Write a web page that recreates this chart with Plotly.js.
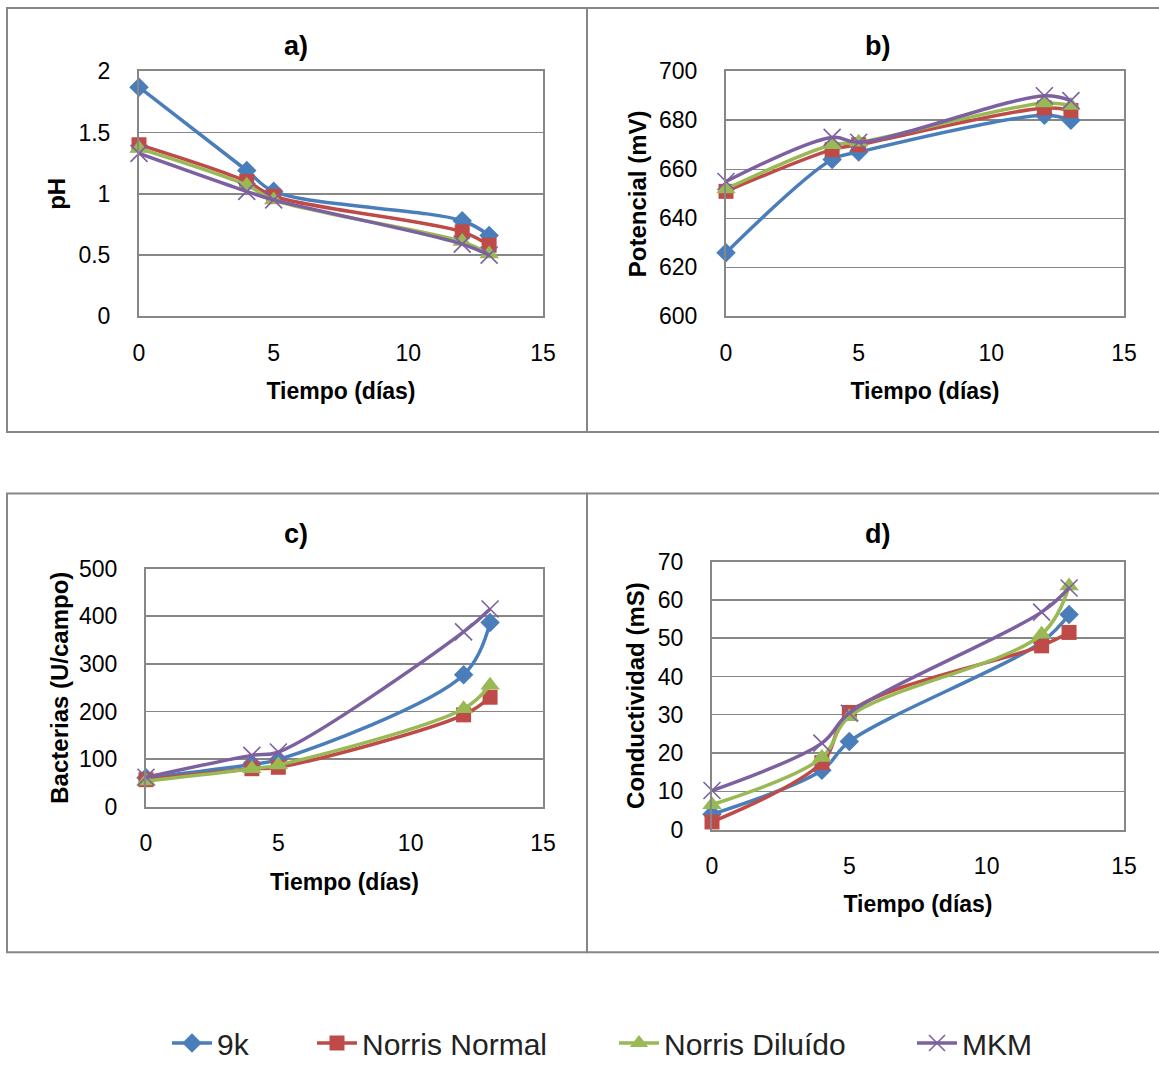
<!DOCTYPE html>
<html>
<head>
<meta charset="utf-8">
<script src="https://cdn.plot.ly/plotly-3.0.1.min.js"></script>
<style>html,body{margin:0;padding:0;background:#fff;overflow:hidden;}#chart{width:1159px;height:1069px;}</style>
</head>
<body>
<div id="chart"></div>
<script>
// ---- data ----
const dias = [0, 4, 5, 12, 13];
const seriesNames = ["9k", "Norris Normal", "Norris Diluído", "MKM"];

const ph_9k  = [1.87, 1.19, 1.02, 0.78, 0.66];
const ph_nn  = [1.40, 1.10, 0.98, 0.69, 0.58];
const ph_nd  = [1.37, 1.07, 0.95, 0.61, 0.51];
const ph_mkm = [1.33, 1.02, 0.95, 0.59, 0.50];

const pot_9k  = [626, 664, 667, 682, 680];
const pot_nn  = [651, 668, 670, 685, 684];
const pot_nd  = [652, 670, 671, 687, 686];
const pot_mkm = [655, 673, 671, 690, 688];

const bac_9k  = [61, 89, 99, 277, 387];
const bac_nn  = [57, 80, 83, 193, 230];
const bac_nd  = [54, 80, 88, 206, 255];
const bac_mkm = [62, 108, 115, 367, 415];

const cond_9k  = [4, 15.5, 23, 49, 56.2];
const cond_nn  = [2, 17.5, 30.6, 48, 51.5];
const cond_nd  = [6.5, 18.8, 29.5, 51, 63.6];
const cond_mkm = [10.2, 22.6, 30.4, 56.8, 63.1];

const panelTitles = ["a)", "b)", "c)", "d)"];
const yTitles = ["pH", "Potencial (mV)", "Bacterias (U/campo)", "Conductividad (mS)"];
const xTitle = "Tiempo (días)";

// ---- styles ----
const W = 1159, H = 1069;
const colors = ["#4A7EBB", "#BE4B48", "#98B954", "#7D60A0"];
const symbols = ["diamond", "square", "triangle-up", "x-thin-open"];
const msizes = [15, 15, 17, 17];
const FONT = "Liberation Sans, Arial, sans-serif";
const GRID = "#878787";
const legendX = [167, 312, 614, 912]; // px, left edge of each legend entry

const panelData = [
  [ph_9k, ph_nn, ph_nd, ph_mkm],
  [pot_9k, pot_nn, pot_nd, pot_mkm],
  [bac_9k, bac_nn, bac_nd, bac_mkm],
  [cond_9k, cond_nn, cond_nd, cond_mkm]
];
const yRanges = [[0, 2], [600, 700], [0, 500], [0, 70]];
const yDticks = [0.5, 20, 100, 10];
// plot areas in pixels [left, right, top, bottom]
const areas = [
  [139, 543, 72, 320],
  [726, 1124, 72, 320],
  [146, 543, 575, 816],
  [712, 1124, 568, 839]
];
const boxes = [
  [7, 587, 8, 437],
  [587, 1161, 8, 437],
  [7, 587, 499, 963],
  [587, 1161, 499, 963]
];
const titlePos = [[296, 47], [877, 47], [296, 540], [877, 540]];
const yStandoff = [6, 6, 4, 6];

const traces = [];
const layout = {
  width: W, height: H, autosize: false,
  margin: {l: 0, r: 0, t: 0, b: 0},
  paper_bgcolor: "#ffffff", plot_bgcolor: "#ffffff",
  font: {family: FONT, size: 23, color: "#000"},
  showlegend: true,
  shapes: [], annotations: []
};
// one legend per series so that each entry sits at its own position
for (let s = 0; s < 4; s++) {
  const key = s === 0 ? "legend" : "legend" + (s + 1);
  layout[key] = {
    orientation: "h", x: legendX[s] / W, xanchor: "left", y: 1 - 1055 / H, yanchor: "middle",
    font: {family: FONT, size: 30, color: "#222"}, itemwidth: 40, bgcolor: "rgba(0,0,0,0)"
  };
}

for (let p = 0; p < 4; p++) {
  const ax = p === 0 ? "" : String(p + 1);
  const [l, r, t, b] = areas[p];
  for (let s = 0; s < 4; s++) {
    const isX = symbols[s] === "x-thin-open";
    traces.push({
      type: "scatter", mode: "lines+markers",
      x: dias, y: panelData[p][s], name: seriesNames[s],
      xaxis: "x" + ax, yaxis: "y" + ax,
      showlegend: p === 0, legend: s === 0 ? "legend" : "legend" + (s + 1),
      cliponaxis: false,
      line: {color: colors[s], width: 3.5, shape: "spline", smoothing: 1},
      marker: {symbol: symbols[s], size: msizes[s], color: colors[s],
               line: isX ? {color: colors[s], width: 1.6} : {width: 0}}
    });
  }
  layout["xaxis" + ax] = {
    domain: [l / W, r / W], anchor: "y" + ax,
    range: [0, 15], dtick: 5, tick0: 0,
    showgrid: false, zeroline: false,
    showline: true, mirror: true, linecolor: GRID, linewidth: 2,
    ticks: "", ticklabelstandoff: 15,
    tickfont: {family: FONT, size: 23, color: "#000"},
    title: {text: xTitle, font: {family: FONT, size: 23, color: "#000", weight: "bold"}, standoff: 18},
    fixedrange: true
  };
  layout["yaxis" + ax] = {
    domain: [1 - b / H, 1 - t / H], anchor: "x" + ax,
    range: yRanges[p], dtick: yDticks[p], tick0: 0,
    showgrid: true, gridcolor: GRID, gridwidth: 1.5, zeroline: false,
    showline: true, mirror: true, linecolor: GRID, linewidth: 2,
    ticks: "", ticklabelstandoff: 22,
    tickfont: {family: FONT, size: 23, color: "#000"},
    title: {text: yTitles[p], font: {family: FONT, size: 24, color: "#000", weight: "bold"}, standoff: yStandoff[p]},
    fixedrange: true
  };
  const [bx0, bx1, by0, by1] = boxes[p];
  layout.shapes.push({
    type: "rect", xref: "paper", yref: "paper",
    x0: bx0 / W, x1: bx1 / W, y0: 1 - by1 / H, y1: 1 - by0 / H,
    line: {color: GRID, width: 2}, fillcolor: "rgba(0,0,0,0)", layer: "below"
  });
  layout.annotations.push({
    xref: "paper", yref: "paper", x: titlePos[p][0] / W, y: 1 - titlePos[p][1] / H,
    xanchor: "center", yanchor: "middle", showarrow: false,
    text: "<b>" + panelTitles[p] + "</b>",
    font: {family: FONT, size: 27, color: "#000"}
  });
}

Plotly.newPlot("chart", traces, layout, {displayModeBar: false, staticPlot: true});
</script>
</body>
</html>
